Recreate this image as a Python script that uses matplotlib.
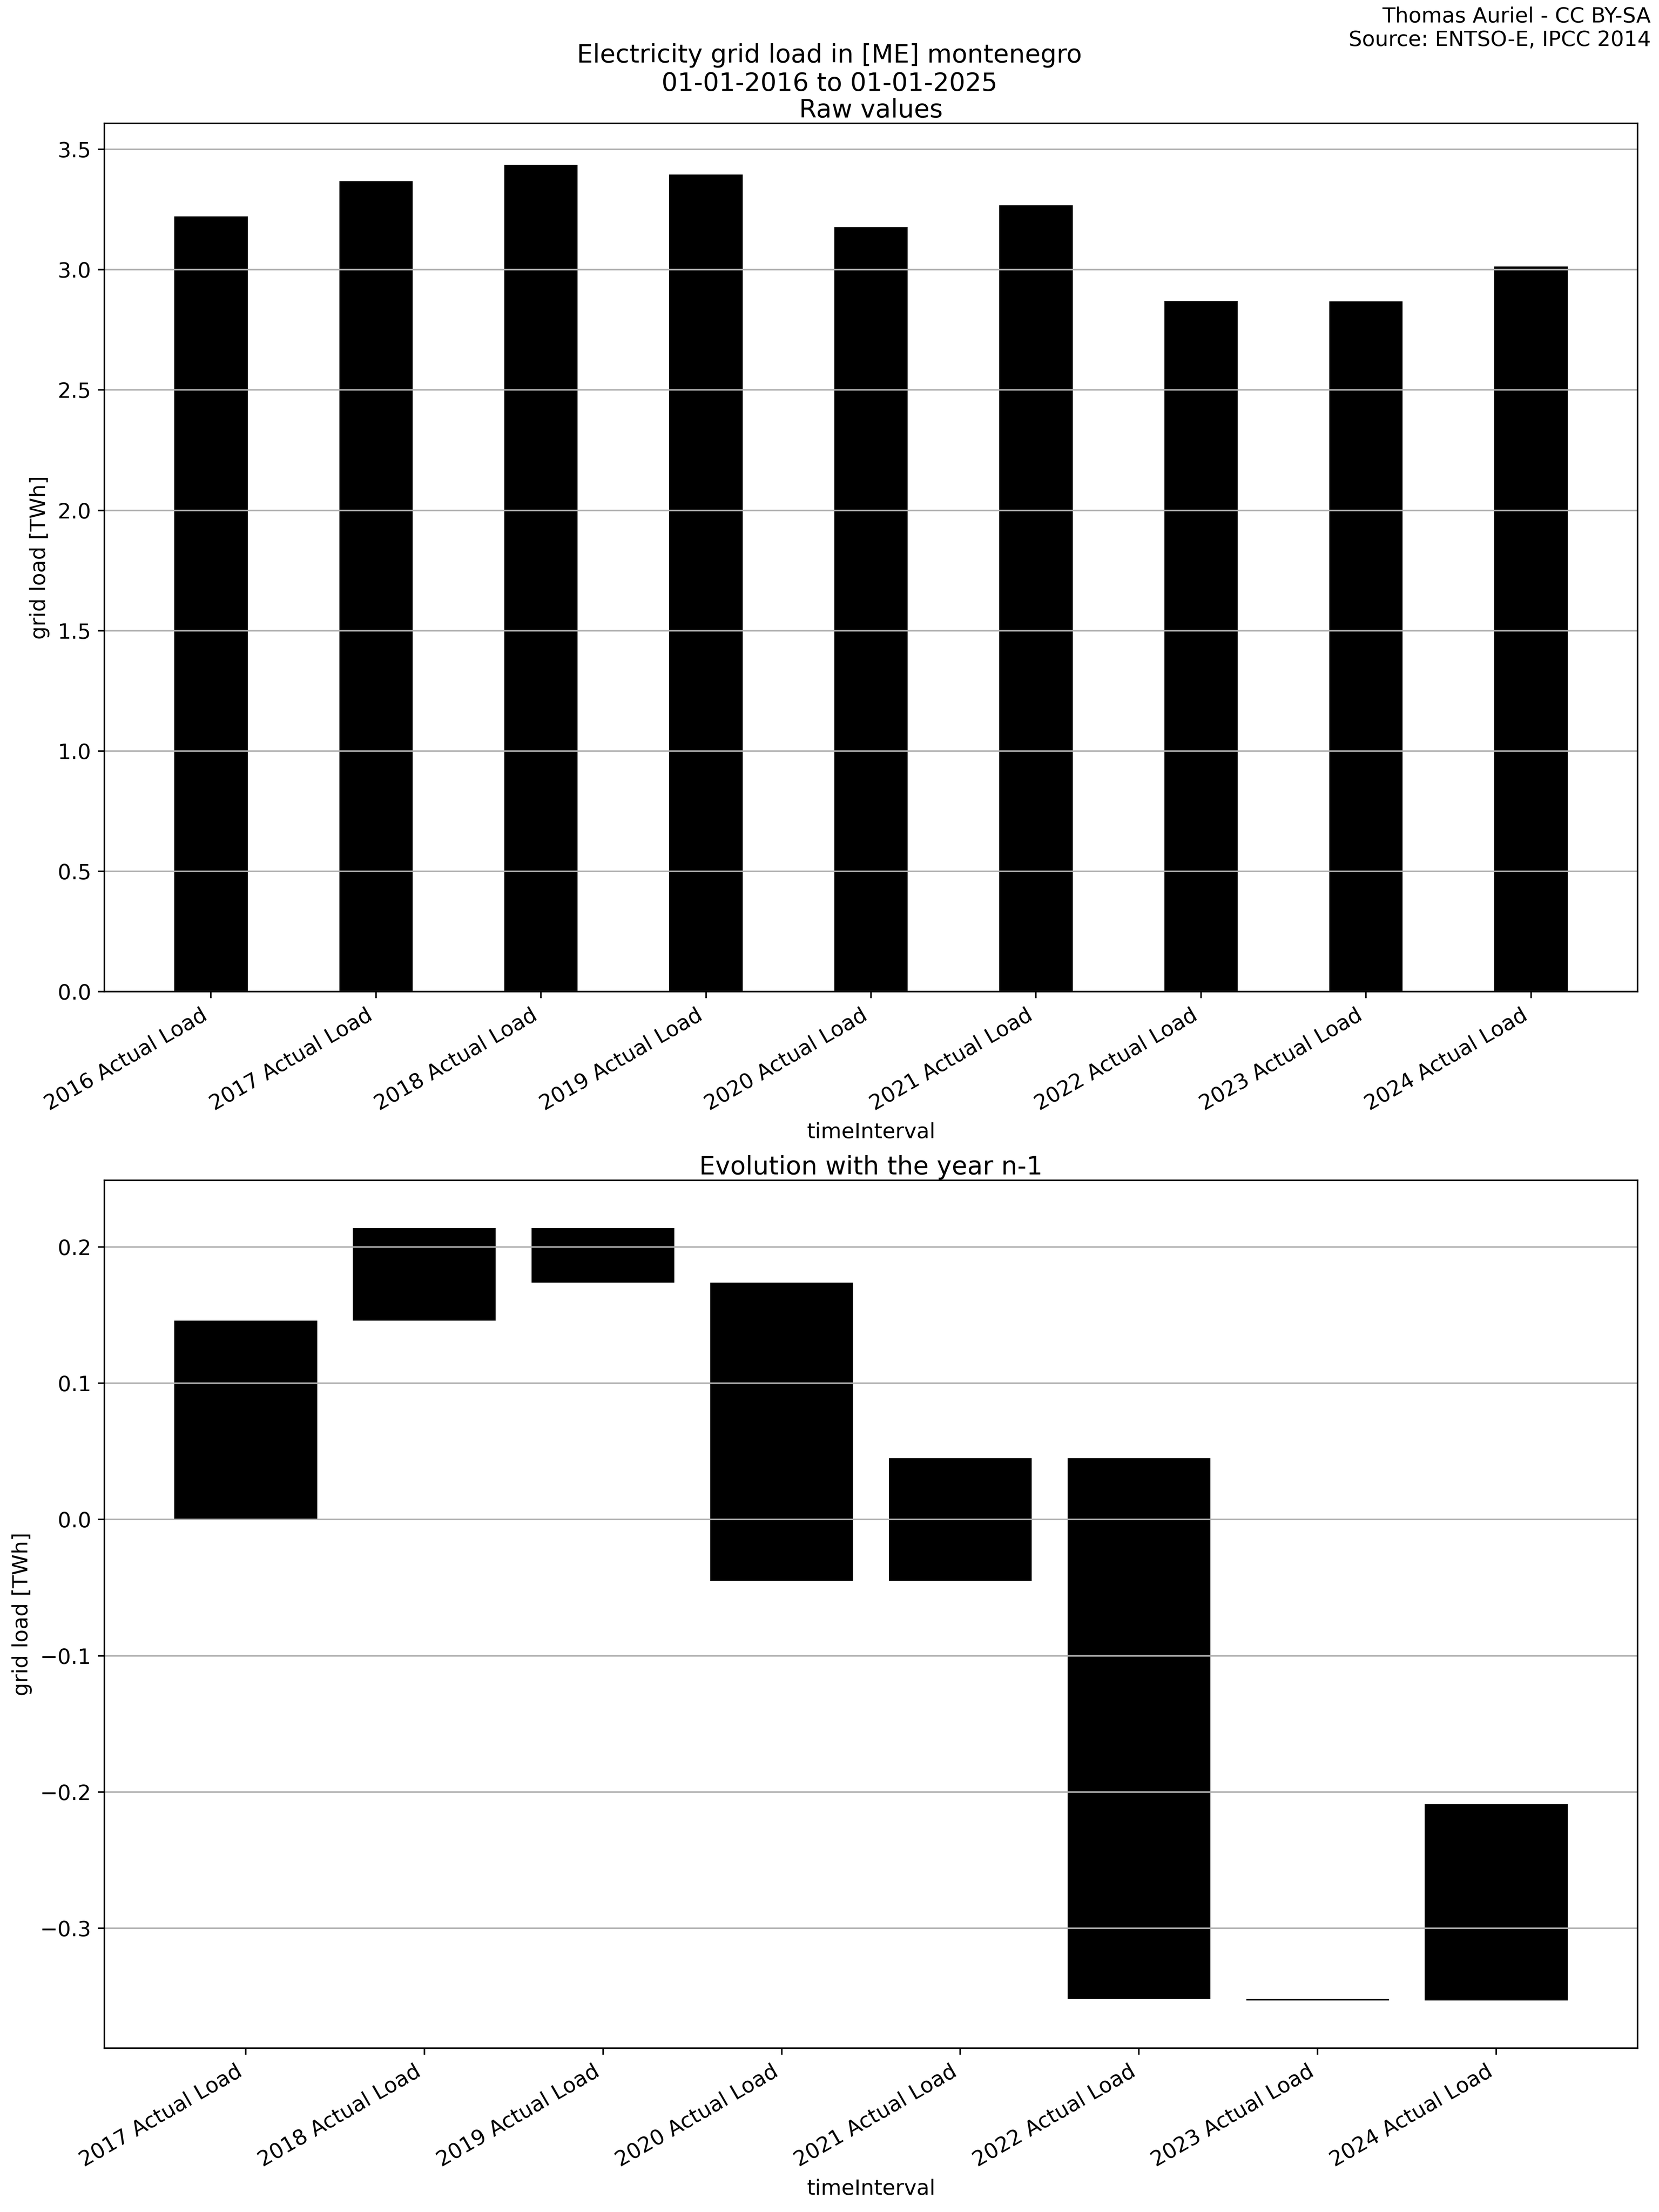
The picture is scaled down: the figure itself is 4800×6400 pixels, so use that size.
import numpy as np
import matplotlib
matplotlib.use('Agg')
import matplotlib.pyplot as plt

plt.rcParams['font.size'] = 11

# Valeurs (TWh)
annees = ['2016', '2017', '2018', '2019', '2020', '2021', '2022', '2023', '2024']
charge_brute = [3.222, 3.368, 3.436, 3.396, 3.177, 3.267, 2.870, 2.869, 3.013]

# Evolution par rapport a l'annee n-1
annees_evol = annees[1:]
evolution = [0.146, 0.068, -0.040, -0.219, 0.090, -0.397, -0.001, 0.144]

labels_brut = [a + ' Actual Load' for a in annees]
labels_evol = [a + ' Actual Load' for a in annees_evol]

fig = plt.figure(figsize=(12, 16), dpi=400)
ax1 = fig.add_axes([0.063, 0.5517, 0.924, 0.3925])
ax2 = fig.add_axes([0.063, 0.0741, 0.924, 0.3923])

# Valeurs brutes
x1 = np.arange(len(charge_brute))
ax1.bar(x1, charge_brute, width=0.445, color='black')
ax1.set_xlim(-0.645, len(x1) - 1 + 0.645)
ax1.set_xticks(x1, labels_brut, rotation=30, ha='right')
ax1.yaxis.grid(True)
ax1.set_title('Raw values', pad=3)
ax1.set_xlabel('timeInterval')
ax1.set_ylabel('grid load [TWh]')

# Cascade des evolutions
x2 = np.arange(len(evolution))
bas = np.concatenate([[0], np.cumsum(evolution)[:-1]])
ax2.bar(x2, evolution, bottom=bas, width=0.8, color='black')
ax2.set_ylim(-0.388, 0.249)
ax2.set_xticks(x2, labels_evol, rotation=30, ha='right')
ax2.yaxis.grid(True)
ax2.set_title('Evolution with the year n-1', pad=3)
ax2.set_xlabel('timeInterval')
ax2.set_ylabel('grid load [TWh]')

fig.suptitle('Electricity grid load in [ME] montenegro\n01-01-2016 to 01-01-2025', y=0.9805)
fig.text(0.995, 0.997, 'Thomas Auriel - CC BY-SA\nSource: ENTSO-E, IPCC 2014', ha='right', va='top')

fig.savefig('out.png', dpi=400)
